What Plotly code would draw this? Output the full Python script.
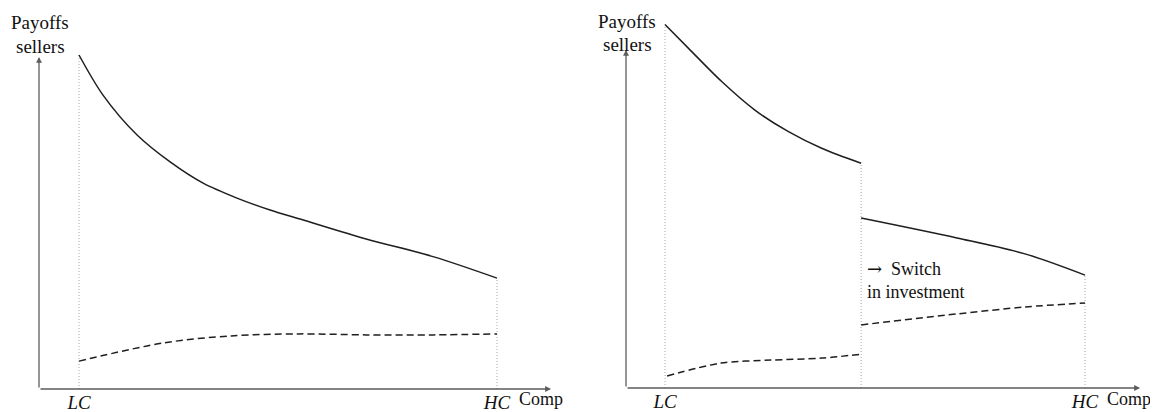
import plotly.graph_objects as go

# ---------------- data (Comp: LC = 0, HC = 1; payoff in arbitrary units) ----------------
tick_vals = [0, 1]
tick_text = ["<i>LC</i>", "<i>HC</i>"]

# Left panel
left_solid_x = [0, 0.057, 0.139, 0.218, 0.297, 0.378, 0.457, 0.529, 0.687, 0.849, 1.0]
left_solid_y = [10.06, 8.86, 7.65, 6.84, 6.20, 5.75, 5.39, 5.12, 4.52, 3.98, 3.34]
left_dash_x = [0, 0.203, 0.364, 0.526, 0.687, 0.849, 1.0]
left_dash_y = [0.84, 1.39, 1.60, 1.66, 1.63, 1.63, 1.66]

# Right panel (switch in investment at Comp = 0.467)
switch_x = 0.467
right_solid1_x = [0, 0.056, 0.135, 0.214, 0.294, 0.373, 0.467]
right_solid1_y = [10.95, 10.23, 9.23, 8.37, 7.72, 7.22, 6.77]
right_solid2_x = [0.467, 0.695, 0.857, 1.0]
right_solid2_y = [5.12, 4.52, 4.04, 3.40]
right_dash1_x = [0.005, 0.133, 0.252, 0.374, 0.467]
right_dash1_y = [0.36, 0.75, 0.84, 0.90, 1.02]
right_dash2_x = [0.467, 0.695, 0.857, 1.0]
right_dash2_y = [1.90, 2.23, 2.44, 2.56]

# ---------------- layout ----------------
OFF = 8                      # page body margin of the html page
W, H = 1158 - OFF, 412 - OFF
FONT = "Liberation Serif"
TXT = "#111111"
CURVE = "#1f1f1f"
AXC = "#5c5c5c"
DOT = "#a8a8a8"
PPU = 33.2                   # pixels per payoff unit

fig = go.Figure()

panels = [
    dict(xa="x", ya="y", lc=79, hc=497, base=389, dom_px=(20, 575), yaxis_px=39, xend_px=551,
         ytop_px=57, comp_px=541, lab_px=40, lab_y=(22, 46)),
    dict(xa="x2", ya="y2", lc=665, hc=1085, base=388, dom_px=(600, 1155), yaxis_px=626, xend_px=1140,
         ytop_px=50, comp_px=1129, lab_px=627, lab_y=(21, 44)),
]


def fx(p, px):
    return (px - p["lc"]) / (p["hc"] - p["lc"])


def fy(p, py):
    return (p["base"] - py) / PPU


def paper_y(py):
    return (H - (py - OFF)) / H


layout_axes = {}
for i, p in enumerate(panels):
    s = "" if i == 0 else "2"
    base_new = p["base"] - OFF
    top_new = 2
    layout_axes["xaxis" + s] = dict(
        domain=[(p["dom_px"][0] - OFF) / W, (p["dom_px"][1] - OFF) / W],
        range=[fx(p, p["dom_px"][0]), fx(p, p["dom_px"][1])],
        tickvals=tick_vals, ticktext=tick_text, ticks="", showgrid=False, zeroline=False,
        showline=False, tickfont=dict(family=FONT, size=19, color=TXT), fixedrange=True,
        anchor="y" + s, ticklabelstandoff=0,
    )
    layout_axes["yaxis" + s] = dict(
        domain=[(H - base_new) / H, (H - top_new) / H],
        range=[0, (base_new - top_new) / PPU], visible=False, fixedrange=True, anchor="x" + s,
    )
fig.update_layout(**layout_axes)


def line(xa, ya, x, y, dash=None, color=CURVE, width=1.5, shape="spline"):
    fig.add_trace(go.Scatter(
        x=x, y=y, mode="lines", xaxis=xa, yaxis=ya, hoverinfo="skip", showlegend=False,
        line=dict(color=color, width=width, dash=dash, shape=shape, smoothing=0.9),
    ))


def vdot(xa, ya, xv, ytop):
    line(xa, ya, [xv, xv], [0, ytop], dash="1px,2px", color=DOT, width=1, shape="linear")


annotations = []


def text(xa, ya, x, y, t, size, xanchor="center", align="center"):
    annotations.append(dict(x=x, y=y, xref=xa, yref=ya, text=t, showarrow=False, align=align,
                            font=dict(family=FONT, size=size, color=TXT),
                            xanchor=xanchor, yanchor="middle"))


for p in panels:
    xa, ya = p["xa"], p["ya"]
    yx = fx(p, p["yaxis_px"])
    xe = fx(p, p["xend_px"])
    annotations.append(dict(x=xe, y=0, ax=yx, ay=0, xref=xa, yref=ya, axref=xa, ayref=ya,
                            text="", showarrow=True, arrowhead=2, arrowsize=0.9, arrowwidth=1.3,
                            arrowcolor=AXC, standoff=0))
    annotations.append(dict(x=yx, y=fy(p, p["ytop_px"]), ax=yx, ay=0, xref=xa, yref=ya, axref=xa,
                            ayref=ya, text="", showarrow=True, arrowhead=2, arrowsize=0.9,
                            arrowwidth=1.3, arrowcolor=AXC, standoff=0))
    text(xa, "paper", fx(p, p["comp_px"]), paper_y(399), "Comp", 18)
    text(xa, ya, fx(p, p["lab_px"]), fy(p, p["lab_y"][0]), "Payoffs", 19)
    text(xa, ya, fx(p, p["lab_px"]), fy(p, p["lab_y"][1]), "sellers", 19)

# Left panel curves
vdot("x", "y", 0, left_solid_y[0])
vdot("x", "y", 1, left_solid_y[-1])
line("x", "y", left_solid_x, left_solid_y)
line("x", "y", left_dash_x, left_dash_y, dash="7px,4px")

# Right panel curves
vdot("x2", "y2", 0, right_solid1_y[0])
vdot("x2", "y2", switch_x, right_solid1_y[-1])
vdot("x2", "y2", 1, right_solid2_y[-1])
line("x2", "y2", right_solid1_x, right_solid1_y)
line("x2", "y2", right_solid2_x, right_solid2_y)
line("x2", "y2", right_dash1_x, right_dash1_y, dash="7px,4px")
line("x2", "y2", right_dash2_x, right_dash2_y, dash="7px,4px")

pr = panels[1]
text("x2", "y2", fx(pr, 865), fy(pr, 280),
     "<span style='font-family:DejaVu Serif'>\u2192</span>&nbsp; Switch<br>in investment",
     18, xanchor="left", align="left")

fig.update_layout(
    width=W, height=H, margin=dict(l=0, r=0, t=0, b=0),
    paper_bgcolor="white", plot_bgcolor="white",
    annotations=annotations, showlegend=False,
)

fig.write_html("out.html")
